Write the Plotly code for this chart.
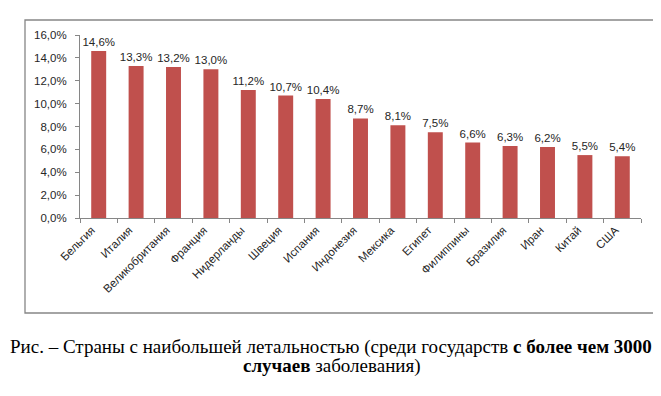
import plotly.graph_objects as go

countries = ["Бельгия", "Италия", "Великобритания", "Франция", "Нидерланды", "Швеция",
             "Испания", "Индонезия", "Мексика", "Египет", "Филиппины", "Бразилия",
             "Иран", "Китай", "США"]
lethality = [14.6, 13.3, 13.2, 13.0, 11.2, 10.7, 10.4, 8.7, 8.1, 7.5, 6.6, 6.3, 6.2, 5.5, 5.4]
y_ticks = [0, 2, 4, 6, 8, 10, 12, 14, 16]
y_tick_labels = ["0,0%", "2,0%", "4,0%", "6,0%", "8,0%", "10,0%", "12,0%", "14,0%", "16,0%"]
caption_line1 = "Рис. – Страны с наибольшей летальностью (среди государств <b>с более чем 3000</b>"
caption_line2 = "<b>случаев</b> заболевания)"

W, H = 661, 396
L, R, T, B = 72, 28, 27, 186
pw, ph = W - L - R, H - T - B

def px_x(x):
    return (x - L) / pw

def px_y(y):
    return (H - B - y) / ph

fig = go.Figure(go.Bar(
    x=countries, y=lethality,
    marker=dict(color="#C0504D", line=dict(width=0)),
    texttemplate="%{y:.1f}%", textposition="outside", cliponaxis=False,
    constraintext="none",
    textfont=dict(family="Liberation Sans", size=11.5, color="#262626"),
))

cap_font = dict(family="Liberation Serif", size=19, color="black")

fig.update_layout(
    width=W, height=H,
    margin=dict(l=L, r=R, t=T, b=B),
    paper_bgcolor="white", plot_bgcolor="white",
    separators=", ",
    bargap=0.6,
    showlegend=False,
    font=dict(family="Liberation Sans", size=11, color="#262626"),
    xaxis=dict(type="category", tickangle=-45, tickson="boundaries",
               ticks="outside", ticklen=4, tickcolor="#868686",
               ticklabelshift=-7,
               showline=True, linecolor="#868686", linewidth=1,
               showgrid=False, tickfont=dict(size=11.5)),
    yaxis=dict(range=[0, 16], tickvals=y_ticks, ticktext=y_tick_labels,
               ticks="outside", ticklen=4, tickcolor="#868686",
               ticklabelstandoff=6,
               showline=True, linecolor="#868686", linewidth=1,
               showgrid=False, zeroline=False, tickfont=dict(size=11.5)),
    shapes=[dict(type="rect", xref="paper", yref="paper",
                 x0=px_x(17), x1=px_x(647), y0=px_y(305), y1=px_y(12),
                 line=dict(color="#868686", width=1.3), fillcolor="rgba(0,0,0,0)")],
    annotations=[
        dict(text=caption_line1, xref="paper", yref="paper",
             x=px_x(323), y=px_y(339), xanchor="center", yanchor="middle",
             showarrow=False, font=cap_font),
        dict(text=caption_line2, xref="paper", yref="paper",
             x=px_x(324), y=px_y(358), xanchor="center", yanchor="middle",
             showarrow=False, font=cap_font),
    ],
)

fig.write_html("out.html")
